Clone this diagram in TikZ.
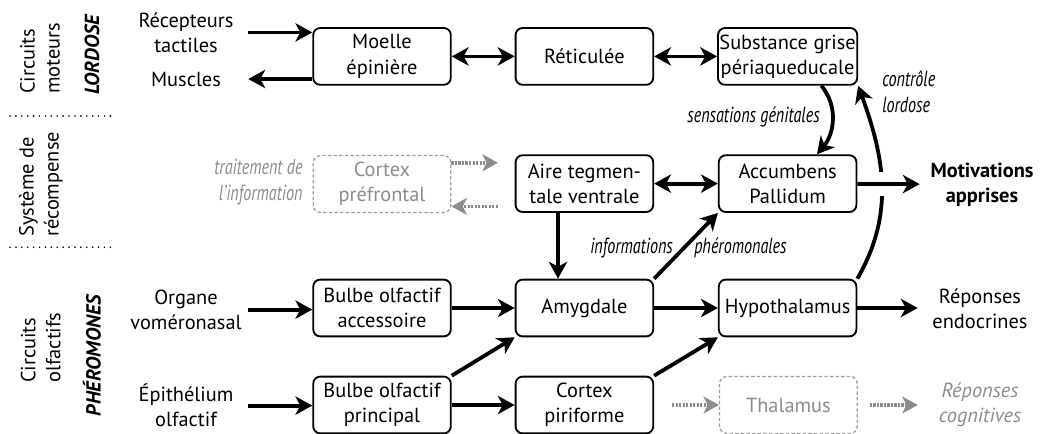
\documentclass[tikz,border=0pt]{standalone}
\usepackage{fontspec}
\setmainfont{PT Sans}
\newfontfamily\narrowfont[FakeStretch=0.74]{PT Sans}
\usepackage{xcolor}
\usetikzlibrary{arrows.meta, positioning, calc}

\definecolor{ghostgray}{gray}{0.55}
\newcommand{\diagfont}{\fontsize{14.5}{17.8}\selectfont}
\newcommand{\notefont}{\fontsize{15.5}{18.5}\selectfont}

\begin{document}
\begin{tikzpicture}[
  font=\diagfont,
  area/.style={draw, rounded corners=5pt, minimum width=3.44cm, minimum height=1.42cm, align=center, line width=1.3pt, inner sep=1pt},
  ghostarea/.style={draw=ghostgray!85, text=ghostgray, dash pattern=on 2.4pt off 1.6pt, rounded corners=5pt, minimum width=3.44cm, minimum height=1.42cm, align=center, line width=0.9pt, inner sep=1pt},
  flow/.style={line width=2.7pt, -{Stealth[length=12pt, width=13pt, inset=3.5pt]}},
  twoway/.style={line width=2.7pt, {Stealth[length=12pt, width=13pt, inset=3.5pt]}-{Stealth[length=12pt, width=13pt, inset=3.5pt]}},
  ghostflow/.style={ghostgray, line width=2.5pt, dash pattern=on 1.6pt off 0.9pt, -{Stealth[length=11pt, width=12pt, inset=3pt]}},
  leftside/.style={text width=3.1cm, align=center, inner sep=0pt},
  rightside/.style={text width=3.1cm, align=center, inner sep=0pt},
  rowname/.style={rotate=90, align=left, inner sep=0pt},
  rowkey/.style={rotate=90, font=\diagfont\bfseries\itshape, inner sep=0pt},
  note/.style={font=\notefont\narrowfont\itshape, inner sep=0pt},
  sepline/.style={line width=1.3pt, line cap=round, dash pattern=on 0pt off 4.2pt}
]
\useasboundingbox (0,0) rectangle (26.075,-10.825);

% --- Row names ---
\node[rowname] (cmo) at (1.0,-1.46) {Circuits\\moteurs};
\node[rowkey] (lor) at (2.3,-1.375) {LORDOSE};
\node[rowname] (sre) at (1.02,-4.61) {Système de\\récompense};
\node[rowname] (col) at (1.02,-8.69) {Circuits\\olfactifs};
\node[rowkey] (phr) at (2.3,-8.89) {PHÉROMONES};
\draw[sepline] (0.25,-2.9) -- (2.88,-2.9);
\draw[sepline] (0.25,-6.18) -- (2.88,-6.18);

% --- Inputs and outputs ---
\node[leftside] (rt) at (4.65,-0.81) {Récepteurs\\tactiles};
\node[leftside] (mu) at (4.65,-1.975) {Muscles};
\node[leftside] (ov) at (4.65,-7.74) {Organe\\voméronasal};
\node[leftside] (ep) at (4.65,-10.14) {Épithélium\\olfactif};
\node[rightside, font=\diagfont\bfseries] (ma) at (24.55,-4.61) {Motivations\\apprises};
\node[rightside] (re) at (24.5,-7.72) {Réponses\\endocrines};
\node[rightside, text=ghostgray, font=\diagfont\itshape] (rc) at (24.5,-10.125) {Réponses\\cognitives};

% --- Structures ---
\node[area] (mep) at (9.55,-1.41) {Moelle\\épinière};
\node[area] (ret) at (14.61,-1.41) {Réticulée};
\node[area] (sgp) at (19.69,-1.41) {Substance grise\\périaqueducale};
\node[ghostarea] (cpf) at (9.55,-4.6) {Cortex\\préfrontal};
\node[area] (atv) at (14.61,-4.59) {Aire tegmen-\\tale ventrale};
\node[area] (acc) at (19.69,-4.59) {Accumbens\\Pallidum};
\node[area] (boa) at (9.55,-7.7) {Bulbe olfactif\\accessoire};
\node[area] (amy) at (14.61,-7.7) {Amygdale};
\node[area] (hyp) at (19.69,-7.7) {Hypothalamus};
\node[area] (bop) at (9.55,-10.125) {Bulbe olfactif\\principal};
\node[area] (cpi) at (14.61,-10.125) {Cortex\\piriforme};
\node[ghostarea] (tha) at (19.71,-10.125) {Thalamus};

% --- Labels ---
\node[note, anchor=east, align=right, text=ghostgray] (ti) at (7.57,-4.56) {traitement de\\l’information};
\node[note, anchor=east] (sg) at (20.5,-2.92) {sensations génitales};
\node[note, anchor=west, align=left] (cl) at (22.05,-2.3) {contrôle\\lordose};
\node[note, anchor=east] (inf) at (16.83,-6.2) {informations};
\node[note, anchor=west] (phe) at (17.35,-6.2) {phéromonales};

% --- Motor circuit ---
\draw[flow] (rt.east) -- (rt.east -| mep.west);
\draw[flow] (mu.east -| mep.west) -- (mu.east);
\draw[twoway] (mep) -- (ret);
\draw[twoway] (ret) -- (sgp);

% --- Reward circuit ---
\draw[twoway] (atv) -- (acc);
\draw[flow] (sgp.-41) to[out=-50, in=50] (acc.45);
\draw[flow] (hyp.north east) to[out=60, in=-70] (sgp.south east);
\draw[flow, preaction={draw=white, line width=17pt, -, shorten <=0.3cm, shorten >=0.6cm}] (acc) -- (ma);
\draw[flow] ([xshift=-0.66cm]atv.south) -- ([xshift=-0.66cm]amy.north);

% --- Olfactory circuit ---
\draw[flow] (ov.east) -- (ov.east -| boa.west);
\draw[flow] (ep.east) -- (ep.east -| bop.west);
\draw[flow] (boa) -- (amy);
\draw[flow] (amy) -- (hyp);
\draw[flow] (bop) -- (cpi);
\draw[flow] (bop.north east) -- (amy.south west);
\draw[flow] (cpi.north east) -- (hyp.south west);
\draw[flow] (amy.north east) -- (acc.south west);
\draw[flow] (hyp.east) -- (hyp.east -| re.west);

% --- Grey paths ---
\coordinate (pfo) at ($(atv.west)+(-0.42,0.52)$);
\coordinate (pfi) at ($(atv.west)+(-0.42,-0.57)$);
\draw[ghostflow] (cpf.east |- pfo) -- (pfo);
\draw[ghostflow] (pfi) -- (cpf.east |- pfi);
\coordinate (thi) at ($(cpi.east)+(0.45,0)$);
\coordinate (tho) at ($(tha.east)+(0.3,0)$);
\draw[ghostflow] (thi) -- (tha);
\draw[ghostflow] (tho) -- (tho -| rc.west);

\end{tikzpicture}
\end{document}
